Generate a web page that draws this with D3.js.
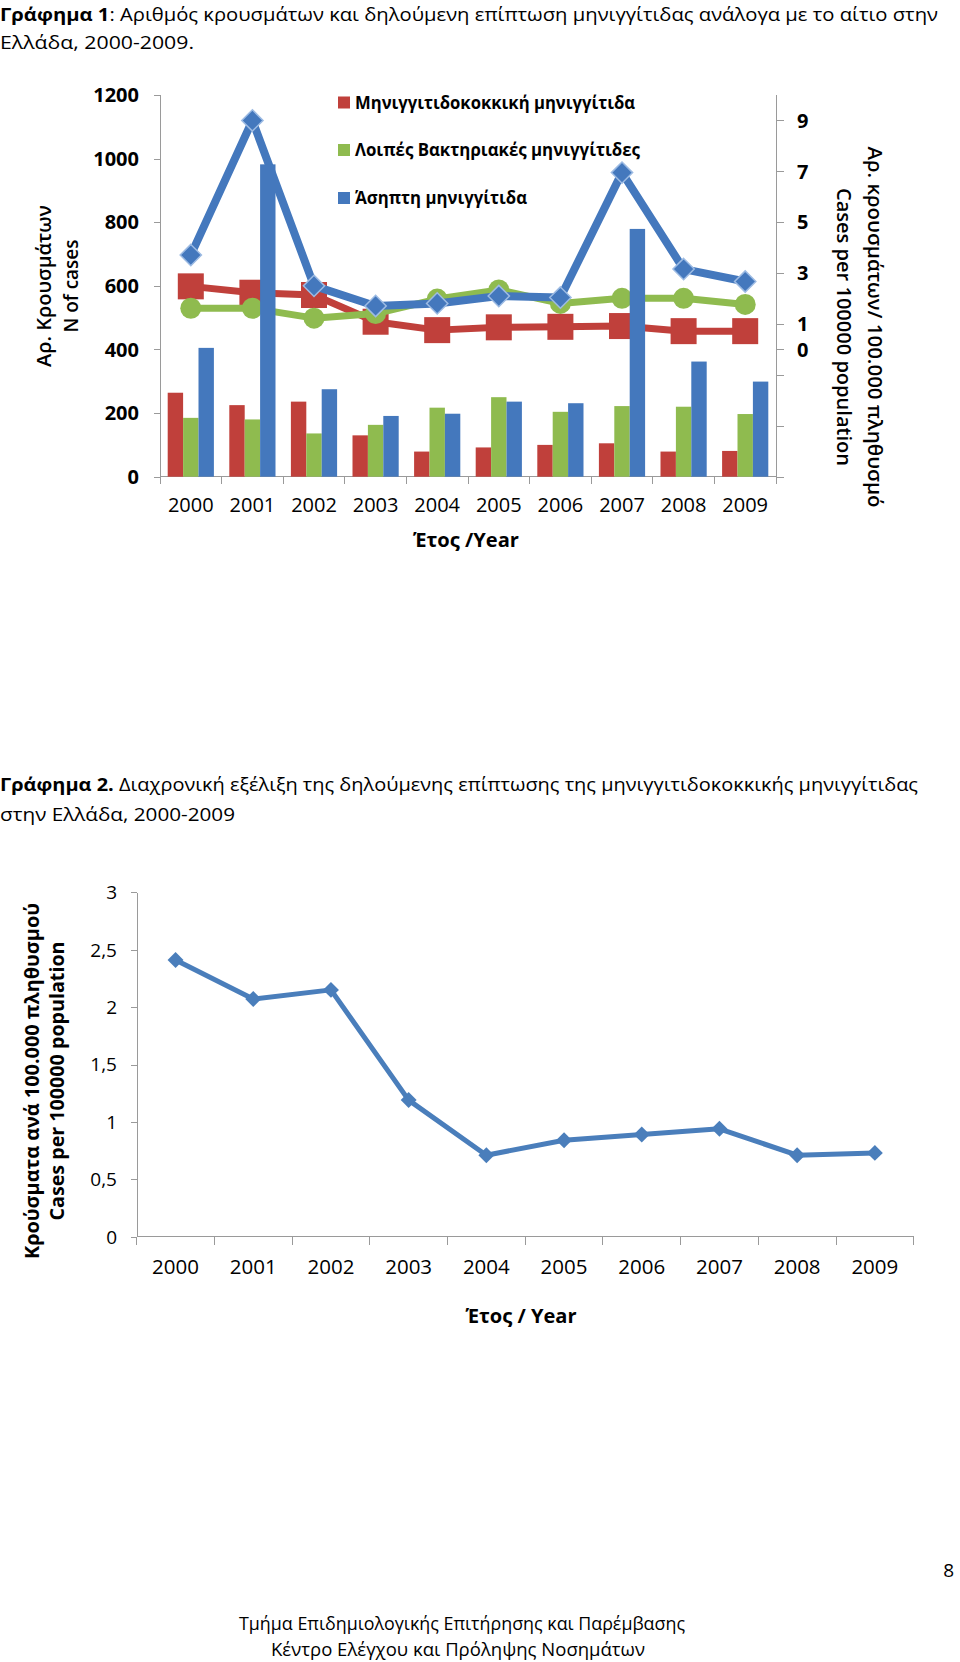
<!DOCTYPE html>
<html>
<head>
<meta charset="utf-8">
<script src="https://cdn.jsdelivr.net/npm/d3@7"></script>
<style>
  body { margin: 0; background: #fff; }
  text { font-family: "Open Sans", "Noto Sans", sans-serif; fill: #000; }
  .axis path, .axis line { stroke: #9a9a9a; shape-rendering: crispEdges; }
</style>
</head>
<body>
<div id="page"></div>
<script>
// Years on both charts
var years = ["2000", "2001", "2002", "2003", "2004", "2005", "2006", "2007", "2008", "2009"];

// Chart 1: number of cases (bars, left axis)
var meningCases = [264, 225, 236, 130, 79, 92, 100, 105, 79, 81];
var otherCases = [185, 180, 136, 163, 217, 250, 204, 222, 220, 197];
var asepticCases = [405, 982, 275, 191, 198, 236, 231, 779, 362, 299];

// Chart 1: incidence per 100.000 (lines, right axis)
var meningRate = [2.48, 2.23, 2.14, 1.09, 0.76, 0.87, 0.89, 0.92, 0.72, 0.72];
var otherRate = [1.62, 1.62, 1.23, 1.41, 1.98, 2.34, 1.81, 2.01, 2.01, 1.77];
var asepticRate = [3.71, 9.0, 2.50, 1.71, 1.81, 2.10, 2.04, 6.95, 3.16, 2.67];

var seriesNames = ["Μηνιγγιτιδοκοκκική μηνιγγίτιδα", "Λοιπές Βακτηριακές μηνιγγίτιδες", "Άσηπτη μηνιγγίτιδα"];
var leftTicks = [0, 200, 400, 600, 800, 1000, 1200];
var rightTicks = [-5, -3, -1, 0, 1, 3, 5, 7, 9];

// Chart 2: meningococcal incidence per 100.000
var meningRate2 = [2.41, 2.07, 2.15, 1.19, 0.71, 0.84, 0.89, 0.94, 0.71, 0.73];
var rateTicks = [0, 0.5, 1, 1.5, 2, 2.5, 3];

var red = "#c0403b", green = "#8fbb4f", blue = "#4478bd";

var svg = d3.select("#page").append("svg")
  .attr("width", 960)
  .attr("height", 1662);

svg.append("rect").attr("width", 960).attr("height", 1662).attr("fill", "#fff");

// ---- Titles ----
function titleLine(y, bold, rest, len) {
  var t = svg.append("text").attr("x", 0).attr("y", y).style("font-size", "18.5px");
  if (len) t.attr("textLength", len).attr("lengthAdjust", "spacingAndGlyphs");
  if (bold) t.append("tspan").style("font-weight", "bold").text(bold);
  t.append("tspan").text(rest);
}
titleLine(21, "Γράφημα 1", ": Αριθμός κρουσμάτων και δηλούμενη επίπτωση μηνιγγίτιδας ανάλογα με το αίτιο στην", 938);
titleLine(49, null, "Ελλάδα, 2000-2009.", 194);
titleLine(791, "Γράφημα 2.", " Διαχρονική εξέλιξη της δηλούμενης επίπτωσης της μηνιγγιτιδοκοκκικής μηνιγγίτιδας", 918);
titleLine(821, null, "στην Ελλάδα, 2000-2009", 235);

// ---- Chart 1 ----
var x = d3.scaleBand().domain(years).range([160, 776]);
var inner = d3.scaleBand().domain([0, 1, 2]).range([x.bandwidth() / 8, x.bandwidth() * 7 / 8]);
var yLeft = d3.scaleLinear().domain([0, 1200]).range([476.7, 95]);
var yRight = d3.scaleLinear().domain([-5, 10]).range([476.7, 95]);

// axes
svg.append("g").attr("class", "axis")
  .attr("transform", "translate(160,0)")
  .call(d3.axisLeft(yLeft).tickValues(leftTicks).tickSize(6).tickSizeOuter(0).tickFormat(""))
  .call(g => g.select(".domain").attr("d", "M0,95V476.7"));

svg.append("g").attr("class", "axis")
  .attr("transform", "translate(776,0)")
  .call(d3.axisRight(yRight).tickValues(rightTicks).tickSize(8).tickSizeOuter(0).tickFormat(""))
  .call(g => g.select(".domain").attr("d", "M0,95V476.7"));

var bounds = years.map(d => x(d)).concat([x.range()[1]]);
var xAxis1 = svg.append("g").attr("class", "axis");
xAxis1.append("line").attr("x1", 160).attr("x2", 776).attr("y1", yLeft(0)).attr("y2", yLeft(0));
xAxis1.selectAll(".tk").data(bounds).enter().append("line")
  .attr("x1", d => d).attr("x2", d => d)
  .attr("y1", yLeft(0)).attr("y2", yLeft(0) + 7);

svg.selectAll(".ylab1").data(leftTicks).enter().append("text")
  .attr("x", 139).attr("y", d => yLeft(d)).attr("dy", "0.36em")
  .attr("text-anchor", "end").style("font-size", "20px").style("font-weight", "bold")
  .text(d => d);

svg.selectAll(".ylab2").data(rightTicks.filter(d => d >= 0)).enter().append("text")
  .attr("x", 797).attr("y", d => yRight(d)).attr("dy", "0.36em")
  .style("font-size", "20px").style("font-weight", "bold")
  .text(d => d);

svg.selectAll(".xlab1").data(years).enter().append("text")
  .attr("x", d => x(d) + x.bandwidth() / 2).attr("y", 505).attr("dy", "0.36em")
  .attr("text-anchor", "middle").style("font-size", "20px")
  .text(d => d);

svg.append("text").attr("x", 466).attr("y", 540).attr("dy", "0.36em")
  .attr("text-anchor", "middle").style("font-size", "20px").style("font-weight", "bold")
  .attr("textLength", 106).attr("lengthAdjust", "spacingAndGlyphs")
  .text("Έτος /Year");

// left axis title
var lt = svg.append("g").attr("transform", "translate(0,286) rotate(-90)");
lt.append("text").attr("x", 0).attr("y", 44).attr("dy", "0.36em").attr("text-anchor", "middle")
  .style("font-size", "20px").style("font-weight", 600)
  .attr("textLength", 162).attr("lengthAdjust", "spacingAndGlyphs")
  .text("Αρ. Κρουσμάτων");
lt.append("text").attr("x", 0).attr("y", 71).attr("dy", "0.36em").attr("text-anchor", "middle")
  .style("font-size", "20px").style("font-weight", 600)
  .attr("textLength", 93).attr("lengthAdjust", "spacingAndGlyphs")
  .text("N of cases");

// right axis title
var rt = svg.append("g").attr("transform", "translate(0,327) rotate(90)");
rt.append("text").attr("x", 0).attr("y", -875).attr("dy", "0.36em").attr("text-anchor", "middle")
  .style("font-size", "20px").style("font-weight", 600)
  .attr("textLength", 361).attr("lengthAdjust", "spacingAndGlyphs")
  .text("Αρ. κρουσμάτων/ 100.000 πληθυσμό");
rt.append("text").attr("x", 0).attr("y", -844).attr("dy", "0.36em").attr("text-anchor", "middle")
  .style("font-size", "20px").style("font-weight", 600)
  .attr("textLength", 278).attr("lengthAdjust", "spacingAndGlyphs")
  .text("Cases per 100000 population");

// lines on the right axis
var cx = d => x(d) + x.bandwidth() / 2;
function rateLine(vals, color, w) {
  var line = d3.line().x((d, i) => cx(years[i])).y(d => yRight(d));
  svg.append("path").datum(vals).attr("d", line)
    .attr("fill", "none").attr("stroke", color).attr("stroke-width", w)
    .attr("stroke-linejoin", "round");
}

rateLine(meningRate, red, 7);
svg.selectAll(".sq").data(meningRate).enter().append("rect")
  .attr("x", (d, i) => cx(years[i]) - 13).attr("y", d => yRight(d) - 13)
  .attr("width", 26).attr("height", 26).attr("fill", red);

rateLine(otherRate, green, 7);
svg.selectAll(".ci").data(otherRate).enter().append("circle")
  .attr("cx", (d, i) => cx(years[i])).attr("cy", d => yRight(d))
  .attr("r", 10.5).attr("fill", green);

rateLine(asepticRate, blue, 8);
var diamond = d3.symbol().type(d3.symbolDiamond2).size(2 * 12 * 12);
svg.selectAll(".dm").data(asepticRate).enter().append("path")
  .attr("d", diamond)
  .attr("transform", (d, i) => "translate(" + cx(years[i]) + "," + yRight(d) + ")")
  .attr("fill", blue).attr("stroke", "#9dbbe3").attr("stroke-width", 1.5);

// bars (drawn on top of the lines, as in the original)
var barData = [meningCases, otherCases, asepticCases];
var barColors = [red, green, blue];
barData.forEach(function (vals, s) {
  svg.selectAll(".bar" + s).data(vals).enter().append("rect")
    .attr("x", (d, i) => x(years[i]) + inner(s))
    .attr("y", d => yLeft(d))
    .attr("width", inner.bandwidth())
    .attr("height", d => yLeft(0) - yLeft(d))
    .attr("fill", barColors[s]);
});

// legend
var legY = [102.5, 150, 198];
var legLen = [280, 285, 172];
seriesNames.forEach(function (name, i) {
  svg.append("rect").attr("x", 338).attr("y", legY[i] - 6).attr("width", 12).attr("height", 12)
    .attr("fill", barColors[i]);
  svg.append("text").attr("x", 355).attr("y", legY[i]).attr("dy", "0.36em")
    .style("font-size", "17px").style("font-weight", "bold")
    .attr("textLength", legLen[i]).attr("lengthAdjust", "spacingAndGlyphs")
    .text(name);
});

// ---- Chart 2 ----
var x2 = d3.scaleBand().domain(years).range([136.7, 913.7]);
var y2 = d3.scaleLinear().domain([0, 3]).range([1236.7, 892.3]);

svg.append("g").attr("class", "axis")
  .attr("transform", "translate(136.7,0)")
  .call(d3.axisLeft(y2).tickValues(rateTicks).tickSize(6).tickSizeOuter(0).tickFormat(""));

var bounds2 = years.map(d => x2(d)).concat([x2.range()[1]]);
var xAxis2 = svg.append("g").attr("class", "axis");
xAxis2.append("line").attr("x1", 136.7).attr("x2", 913.7).attr("y1", y2(0)).attr("y2", y2(0));
xAxis2.selectAll(".tk").data(bounds2).enter().append("line")
  .attr("x1", d => d).attr("x2", d => d)
  .attr("y1", y2(0)).attr("y2", y2(0) + 8);

svg.selectAll(".ylab3").data(rateTicks).enter().append("text")
  .attr("x", 117).attr("y", d => y2(d)).attr("dy", "0.36em")
  .attr("text-anchor", "end").style("font-size", "19px")
  .text(d => String(d).replace(".", ","));

svg.selectAll(".xlab2").data(years).enter().append("text")
  .attr("x", d => x2(d) + x2.bandwidth() / 2).attr("y", 1267).attr("dy", "0.36em")
  .attr("text-anchor", "middle").style("font-size", "20.5px")
  .text(d => d);

svg.append("text").attr("x", 521).attr("y", 1316).attr("dy", "0.36em")
  .attr("text-anchor", "middle").style("font-size", "20px").style("font-weight", "bold")
  .attr("textLength", 111).attr("lengthAdjust", "spacingAndGlyphs")
  .text("Έτος / Year");

var lt2 = svg.append("g").attr("transform", "translate(0,1081) rotate(-90)");
lt2.append("text").attr("x", 0).attr("y", 32).attr("dy", "0.36em").attr("text-anchor", "middle")
  .style("font-size", "19px").style("font-weight", "bold")
  .attr("textLength", 356).attr("lengthAdjust", "spacingAndGlyphs")
  .text("Κρούσματα ανά 100.000 πληθυσμού");
lt2.append("text").attr("x", 0).attr("y", 57).attr("dy", "0.36em").attr("text-anchor", "middle")
  .style("font-size", "19px").style("font-weight", "bold")
  .attr("textLength", 279).attr("lengthAdjust", "spacingAndGlyphs")
  .text("Cases per 100000 population");

var cx2 = d => x2(d) + x2.bandwidth() / 2;
var line2 = d3.line().x((d, i) => cx2(years[i])).y(d => y2(d));
svg.append("path").datum(meningRate2).attr("d", line2)
  .attr("fill", "none").attr("stroke", "#4a7ebb").attr("stroke-width", 5)
  .attr("stroke-linejoin", "round");
var diamond2 = d3.symbol().type(d3.symbolDiamond2).size(2 * 9 * 9);
svg.selectAll(".dm2").data(meningRate2).enter().append("path")
  .attr("d", diamond2)
  .attr("transform", (d, i) => "translate(" + cx2(years[i]) + "," + y2(d) + ")")
  .attr("fill", "#4a7ebb");

// ---- Footer ----
svg.append("text").attr("x", 954).attr("y", 1570).attr("dy", "0.36em")
  .attr("text-anchor", "end").style("font-size", "19px").text("8");
svg.append("text").attr("x", 462).attr("y", 1624).attr("dy", "0.36em")
  .attr("text-anchor", "middle").style("font-size", "18px")
  .attr("textLength", 446).attr("lengthAdjust", "spacingAndGlyphs")
  .text("Τμήμα Επιδημιολογικής Επιτήρησης και Παρέμβασης");
svg.append("text").attr("x", 458).attr("y", 1650).attr("dy", "0.36em")
  .attr("text-anchor", "middle").style("font-size", "18px")
  .attr("textLength", 374).attr("lengthAdjust", "spacingAndGlyphs")
  .text("Κέντρο Ελέγχου και Πρόληψης Νοσημάτων");
</script>
</body>
</html>
